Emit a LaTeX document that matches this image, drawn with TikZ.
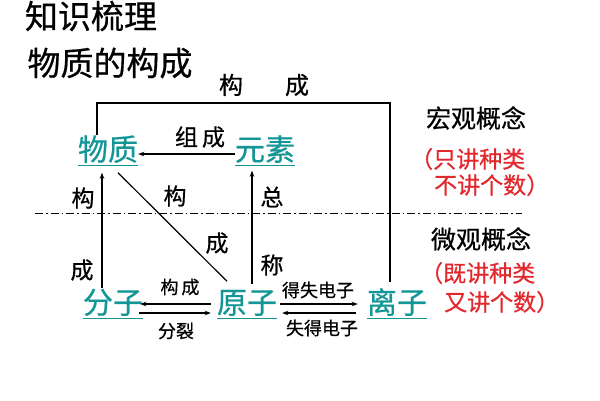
\documentclass[tikz,border=0pt]{standalone}
\usepackage{fontspec}
\setmainfont{Noto Sans CJK SC}[FakeBold=0.6]
\usetikzlibrary{arrows.meta}
\definecolor{tealc}{RGB}{20,150,150}
\definecolor{redc}{RGB}{225,40,45}
\tikzset{
  key/.style={inner sep=0pt, text height=25pt, text depth=4pt, text=tealc, font=\fontsize{30}{30}\selectfont},
  lbl/.style={inner sep=0pt, font=\fontsize{23}{23}\selectfont},
  small/.style={inner sep=0pt, font=\fontsize{18}{18}\selectfont},
  side/.style={inner sep=0pt, font=\fontsize{25}{25}\selectfont},
  note/.style={inner sep=0pt, anchor=west, text=redc, font=\fontsize{23}{23}\selectfont},
  ttl/.style={inner sep=0pt, font=\fontsize{33}{33}\selectfont},
  conn/.style={line width=1.2pt},
  arr/.style={line width=1.2pt, -{Stealth[length=6pt,width=4.5pt]}},
  uline/.style={tealc, line width=1pt}
}
\begin{document}
\begin{tikzpicture}[x=1pt,y=-1pt]
\useasboundingbox (0,0) rectangle (600,400);
% titles
\node[ttl] (t1) at (91,16) {知识梳理};
\node[ttl] (t2) at (110,63) {物质的构成};
% key nodes
\node[key] (wz) at (108,150) {物质};
\node[key] (ys) at (265,150) {元素};
\node[key] (fz) at (113,303) {分子};
\node[key] (yz) at (247,303) {原子};
\node[key] (lz) at (397,303) {离子};
\foreach \n in {wz,ys,fz,yz,lz}{
  \draw[uline] ([yshift=-1pt]\n.south west) -- ([yshift=-1pt]\n.south east);
}
% top bracket
\coordinate (topbar) at (390,103);
\node[lbl,font=\fontsize{24}{24}\selectfont] (gc) at (264,85) {构\hspace{42pt}成};
\draw[conn] ([xshift=-11pt]wz.north) |- (topbar) -- ([xshift=-7pt,yshift=6pt]lz.north);
% element -> substance
\draw[arr] ([yshift=-4pt]ys.west) -- ([yshift=-4pt]wz.east);
\node[lbl] (zc) at (200,137) {组\hspace{4pt}成};
% molecule -> substance
\draw[arr] ([xshift=-11pt]fz.north) -- ([xshift=-6pt,yshift=-8pt]wz.south);
\node[lbl] (g1) at (83,198) {构};
\node[lbl] (c1) at (82,270) {成};
% diagonal
\draw[conn] ([xshift=10pt,yshift=-8pt]wz.south) -- ([xshift=-20pt,yshift=7pt]yz.north);
\node[lbl] (g2) at (175,196) {构};
\node[lbl] (c2) at (217,243) {成};
% atom -> element
\draw[arr] ([xshift=5pt,yshift=4pt]yz.north) -- ([xshift=-13pt,yshift=-6pt]ys.south);
\node[lbl] (z1) at (272,197) {总};
\node[lbl] (z2) at (272,265) {称};
% molecule <-> atom
\draw[arr] ([xshift=-6pt,yshift=-1pt]yz.west) -- ([xshift=-3pt,yshift=-1pt]fz.east);
\draw[arr] ([xshift=-4pt,yshift=-10pt]fz.east) -- ([xshift=-6pt,yshift=-10pt]yz.west);
\node[small] (gc2) at (180,287) {构\,成};
\node[small] (fl) at (176,331) {分裂};
% atom <-> ion
\draw[arr] ([xshift=3pt,yshift=-1pt]yz.east) -- ([xshift=-9pt,yshift=-1pt]lz.west);
\draw[arr] ([xshift=-11pt,yshift=-10pt]lz.west) -- ([xshift=5pt,yshift=-10pt]yz.east);
\node[small] (ds) at (318,290) {得失电子};
\node[small] (sd) at (322,328) {失得电子};
% dash-dot divider
\coordinate (dl) at (35,213);
\coordinate (dr) at (522,213);
\draw[line width=1pt, dash pattern=on 8pt off 3pt on 1.5pt off 3pt] (dl) -- (dr);
% side notes
\node[side] (hg) at (476,118) {宏观概念};
\node[note] (n1) at (410,159) {（只讲种类};
\node[note] (n2) at (434,185) {不讲个数）};
\node[side] (wg) at (481,239) {微观概念};
\node[note] (n3) at (420,273) {（既讲种类};
\node[note] (n4) at (444,302) {又讲个数）};
\end{tikzpicture}
\end{document}
